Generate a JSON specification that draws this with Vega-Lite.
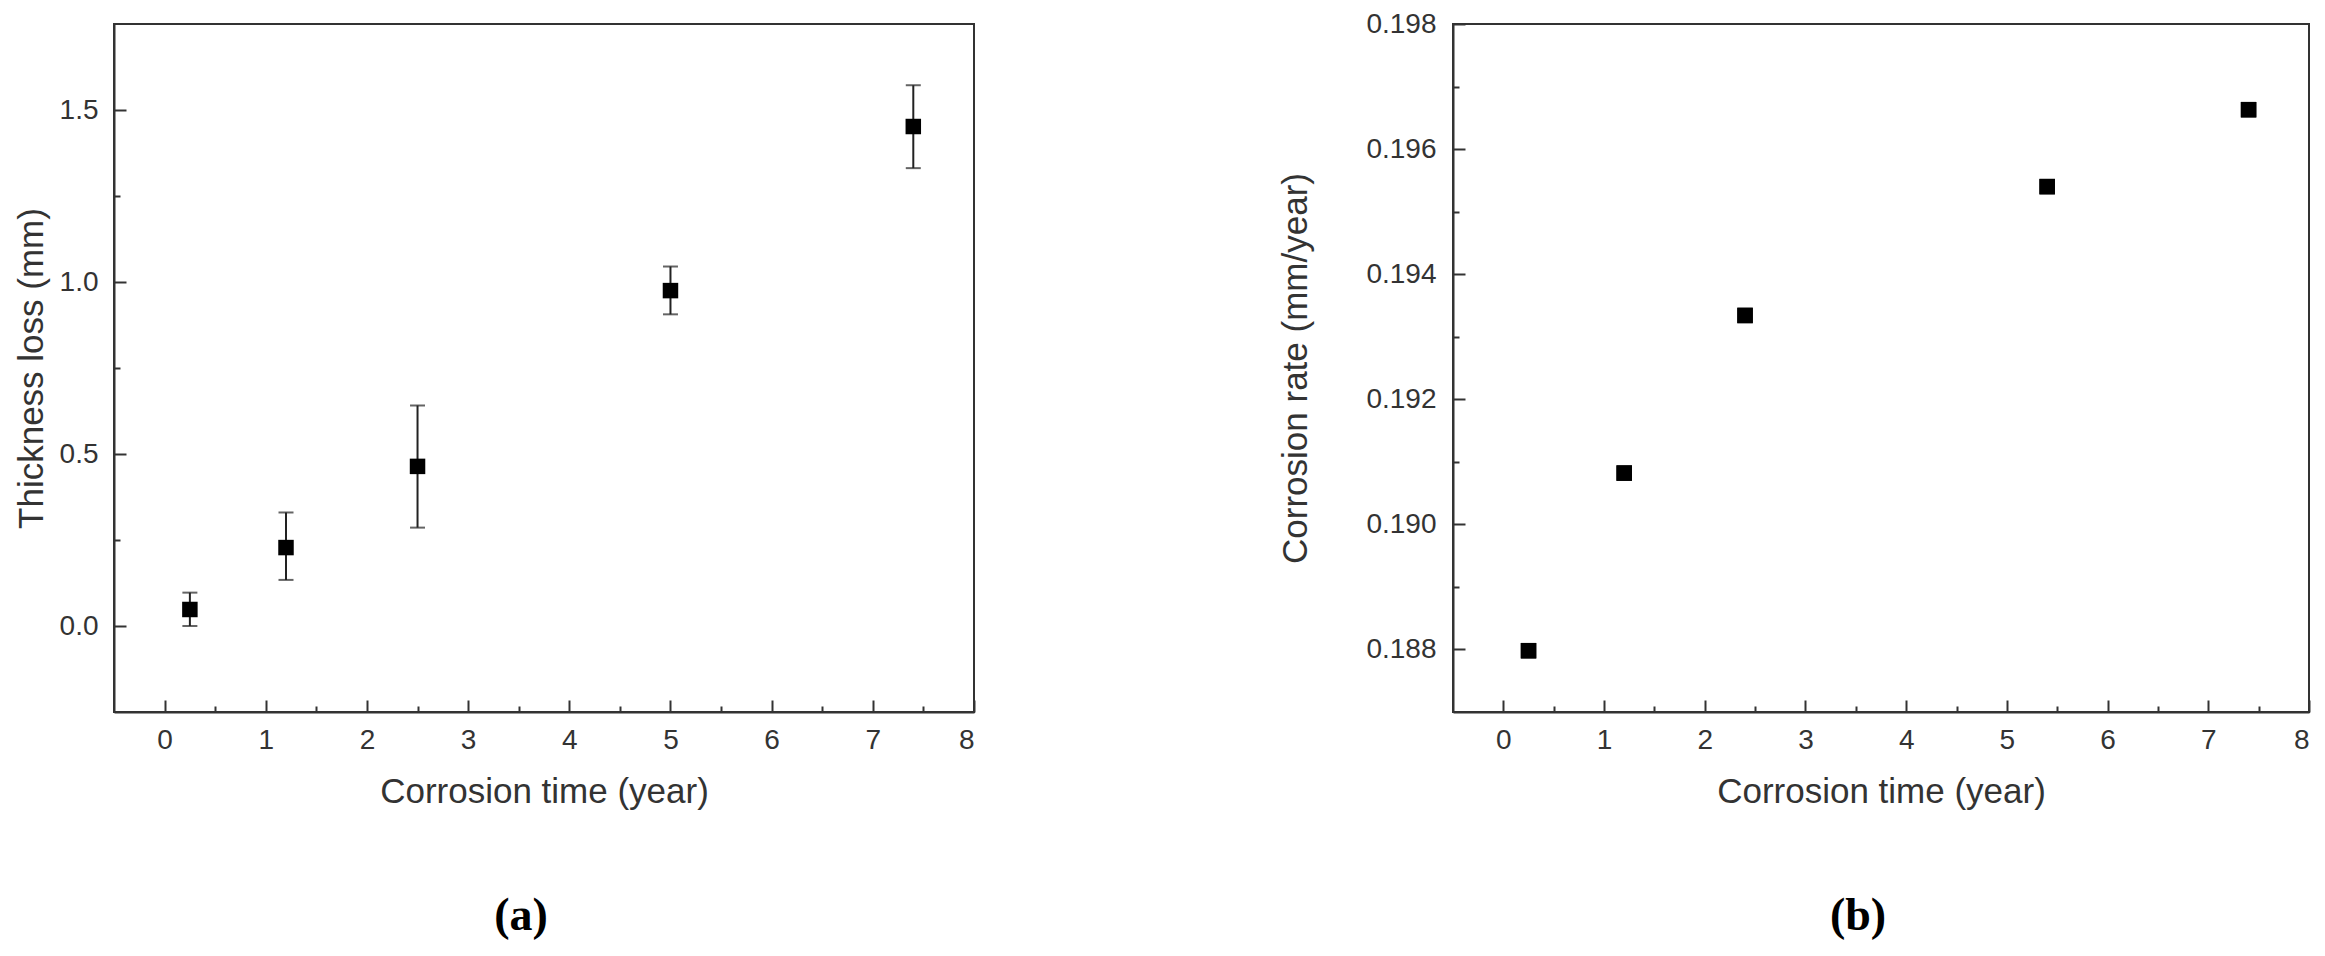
{
  "$schema": "https://vega.github.io/schema/vega-lite/v6.json",
  "padding": {"left": 13, "top": 9, "right": 5, "bottom": 5},
  "bounds": "flush",
  "spacing": 479,
  "background": "white",
  "config": {
    "view": {"stroke": "#333", "strokeWidth": 2},
    "axis": {
      "domainColor": "#333", "domainWidth": 2,
      "tickColor": "#333", "tickWidth": 2,
      "labelFont": "Liberation Sans", "labelFontSize": 28, "labelColor": "#333",
      "titleFont": "Liberation Sans", "titleFontSize": 35, "titleFontWeight": "normal", "titleColor": "#333",
      "grid": false
    },
    "title": {"font": "Liberation Serif", "fontSize": 46, "fontWeight": "bold", "color": "#000"}
  },
  "hconcat": [
    {
      "width": 860, "height": 688,
      "title": {"text": "(a)", "orient": "bottom", "anchor": "middle", "dx": -23, "offset": 85},
      "data": {"values": [
        {"t": 0.25, "loss": 0.048, "lo": 0.0, "hi": 0.097},
        {"t": 1.2, "loss": 0.228, "lo": 0.134, "hi": 0.33},
        {"t": 2.5, "loss": 0.464, "lo": 0.286, "hi": 0.641},
        {"t": 5.0, "loss": 0.975, "lo": 0.906, "hi": 1.045},
        {"t": 7.4, "loss": 1.452, "lo": 1.331, "hi": 1.572}
      ]},
      "resolve": {"axis": {"x": "independent", "y": "independent"}},
      "layer": [
        {
          "mark": {"type": "rule", "strokeWidth": 2, "color": "#222"},
          "encoding": {
            "x": {"field": "t", "type": "quantitative", "scale": {"domain": [-0.5, 8], "nice": false, "zero": false},
              "axis": {"orient": "bottom", "title": "Corrosion time (year)", "values": [0,1,2,3,4,5,6,7,8], "format": "d", "tickSize": -12, "labelPadding": 26, "titlePadding": 20}},
            "y": {"field": "lo", "type": "quantitative", "scale": {"domain": [-0.25, 1.75], "nice": false, "zero": false},
              "axis": {"orient": "left", "title": "Thickness loss (mm)", "values": [0, 0.5, 1, 1.5], "format": ".1f", "tickSize": -12, "labelPadding": 28, "minExtent": 56, "maxExtent": 56, "titlePadding": 9}},
            "y2": {"field": "hi"}
          }
        },
        {
          "mark": {"type": "tick", "orient": "horizontal", "size": 15, "thickness": 2, "color": "#222"},
          "encoding": {
            "x": {"field": "t", "type": "quantitative",
              "axis": {"orient": "bottom", "title": null, "labels": false, "domain": false, "values": [0.5,1.5,2.5,3.5,4.5,5.5,6.5,7.5], "tickSize": -6, "minExtent": 0, "maxExtent": 0}},
            "y": {"field": "lo", "type": "quantitative",
              "axis": {"orient": "left", "title": null, "labels": false, "domain": false, "values": [0.25, 0.75, 1.25], "tickSize": -6, "minExtent": 0, "maxExtent": 0}}
          }
        },
        {
          "mark": {"type": "tick", "orient": "horizontal", "size": 15, "thickness": 2, "color": "#222"},
          "encoding": {
            "x": {"field": "t", "type": "quantitative", "axis": null},
            "y": {"field": "hi", "type": "quantitative", "axis": null}
          }
        },
        {
          "mark": {"type": "point", "shape": "square", "filled": true, "size": 240, "color": "#000", "opacity": 1},
          "encoding": {
            "x": {"field": "t", "type": "quantitative", "axis": null},
            "y": {"field": "loss", "type": "quantitative", "axis": null}
          }
        }
      ]
    },
    {
      "width": 856, "height": 688,
      "title": {"text": "(b)", "orient": "bottom", "anchor": "middle", "dx": -23, "offset": 85},
      "data": {"values": [
        {"t": 0.25, "rate": 0.18798},
        {"t": 1.2, "rate": 0.19082},
        {"t": 2.4, "rate": 0.19334},
        {"t": 5.4, "rate": 0.1954},
        {"t": 7.4, "rate": 0.19663}
      ]},
      "resolve": {"axis": {"x": "independent", "y": "independent"}},
      "layer": [
        {
          "mark": {"type": "point", "shape": "square", "filled": true, "size": 240, "color": "#000", "opacity": 1},
          "encoding": {
            "x": {"field": "t", "type": "quantitative", "scale": {"domain": [-0.5, 8], "nice": false, "zero": false},
              "axis": {"orient": "bottom", "title": "Corrosion time (year)", "values": [0,1,2,3,4,5,6,7,8], "format": "d", "tickSize": -12, "labelPadding": 26, "titlePadding": 20}},
            "y": {"field": "rate", "type": "quantitative", "scale": {"domain": [0.187, 0.198], "nice": false, "zero": false},
              "axis": {"orient": "left", "title": "Corrosion rate (mm/year)", "values": [0.188, 0.19, 0.192, 0.194, 0.196, 0.198], "format": ".3f", "tickSize": -12, "labelPadding": 29, "minExtent": 87, "maxExtent": 87, "titlePadding": 53}}
          }
        },
        {
          "mark": {"type": "point", "shape": "square", "filled": true, "size": 240, "color": "#000", "opacity": 1},
          "encoding": {
            "x": {"field": "t", "type": "quantitative",
              "axis": {"orient": "bottom", "title": null, "labels": false, "domain": false, "values": [0.5,1.5,2.5,3.5,4.5,5.5,6.5,7.5], "tickSize": -6, "minExtent": 0, "maxExtent": 0}},
            "y": {"field": "rate", "type": "quantitative",
              "axis": {"orient": "left", "title": null, "labels": false, "domain": false, "values": [0.189, 0.191, 0.193, 0.195, 0.197], "tickSize": -6, "minExtent": 0, "maxExtent": 0}}
          }
        }
      ]
    }
  ]
}
